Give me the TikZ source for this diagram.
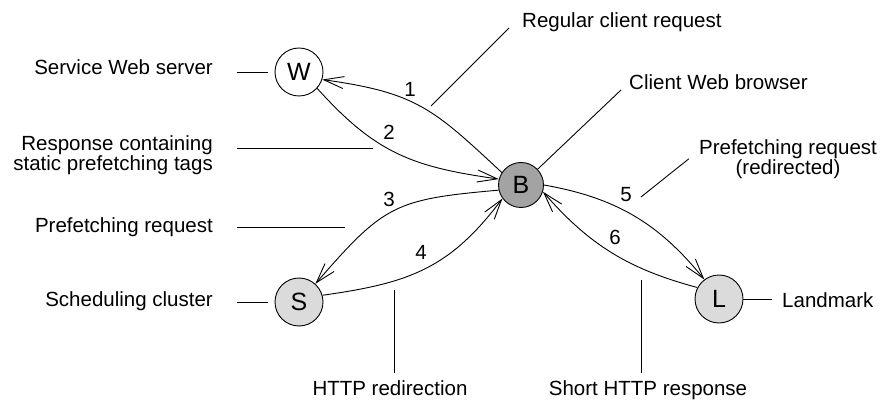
\documentclass[tikz,border=0pt]{standalone}
\usepackage{fontspec}
\setmainfont{Liberation Sans}
\usetikzlibrary{arrows.meta}

\definecolor{browsergray}{gray}{0.64}
\definecolor{hostgray}{gray}{0.86}

\begin{document}
\begin{tikzpicture}[
    x=1pt, y=-1pt, % pixel-like units, y grows downwards
    host/.style={draw, circle, line width=0.9pt, inner sep=0pt, minimum size=48pt, font=\fontsize{25}{25}\selectfont},
    labelstyle/.style={inner sep=0pt, font=\fontsize{20.5}{20}\selectfont},
    msg/.style={line width=0.9pt, -{Straight Barb[length=20pt, width=12pt]}},
    pointer/.style={line width=0.9pt}
]
\useasboundingbox (0,0) rectangle (882,403);

% Hosts
\node (W) [host, fill=white] at (299,72) {W};
\node (B) [host, fill=browsergray, minimum size=45pt] at (521,185) {B};
\node (S) [host, fill=hostgray] at (299,302) {S};
\node (L) [host, fill=hostgray] at (719,299) {L};

% Messages between the hosts
\draw[msg] (B.147) to[out=137, in=-8, looseness=1.2] (W.-18);
\draw[msg] (W.-42) to[out=-48, in=172, looseness=1.1] (B.165);
\draw[msg] (B.193) to[out=185, in=49, looseness=1.3] (S.48);
\draw[msg] (S.16) to[out=8, in=233, looseness=1.1] (B.216);
\draw[msg] (B.0) to[out=-10, in=129] (L.127);
\draw[msg] (L.152) to[out=165, in=-49] (B.-17);

% Message numbers
\node (n1) [labelstyle] at (410,89) {1};
\node (n2) [labelstyle] at (389,132) {2};
\node (n3) [labelstyle] at (389,199) {3};
\node (n4) [labelstyle] at (421,252) {4};
\node (n5) [labelstyle] at (626,195) {5};
\node (n6) [labelstyle] at (615,237) {6};

% Labels on the left
\node (W_label) [labelstyle, anchor=base east] at (213,75) {Service Web server};
\node (resp_label) [labelstyle, anchor=east, align=right] at (213,155) {Response containing\\static prefetching tags};
\node (pref_label) [labelstyle, anchor=base east] at (213,232) {Prefetching request};
\node (sched_label) [labelstyle, anchor=base east] at (213,306) {Scheduling cluster};

% Labels on the right and at the bottom
\node (req_label) [labelstyle, anchor=base west] at (522,28) {Regular client request};
\node (cwb_label) [labelstyle, anchor=base west] at (629,90) {Client Web browser};
\node (redir_label) [labelstyle, anchor=north, align=center] at (788,139) {Prefetching request\\(redirected)};
\node (landmark_label) [labelstyle, anchor=base west] at (782,307) {Landmark};
\node (http_label) [labelstyle, anchor=base] at (390,395) {HTTP redirection};
\node (short_label) [labelstyle, anchor=base] at (648,395) {Short HTTP response};

% Free ends of the pointer lines
\coordinate (resp_end) at (373,148);
\coordinate (pref_end) at (345,227);
\coordinate (req_end) at (431,106);
\coordinate (redir_end) at (641,197);
\coordinate (http_top) at (394,290);
\coordinate (short_top) at (641,280);

% Pointer lines
\draw[pointer, shorten <=24pt, shorten >=7pt] (W.west -| W_label.east) -- (W.west);
\draw[pointer, shorten <=24pt] (resp_end -| resp_label.east) -- (resp_end);
\draw[pointer, shorten <=24pt] (pref_end -| pref_label.east) -- (pref_end);
\draw[pointer, shorten <=24pt, shorten >=7pt] (S.west -| sched_label.east) -- (S.west);
\draw[pointer, shorten >=10pt] (L.east) -- (L.east -| landmark_label.west);
\draw[pointer] ([xshift=-13pt]req_label.base west) -- (req_end);
\draw[pointer] ([xshift=-8pt]cwb_label.base west) -- (B);
\draw[pointer] ([xshift=-10pt]redir_label.west) -- (redir_end);
\draw[pointer, shorten >=7pt] (http_top) -- (http_top |- http_label.north);
\draw[pointer, shorten >=7pt] (short_top) -- (short_top |- short_label.north);

\end{tikzpicture}
\end{document}
